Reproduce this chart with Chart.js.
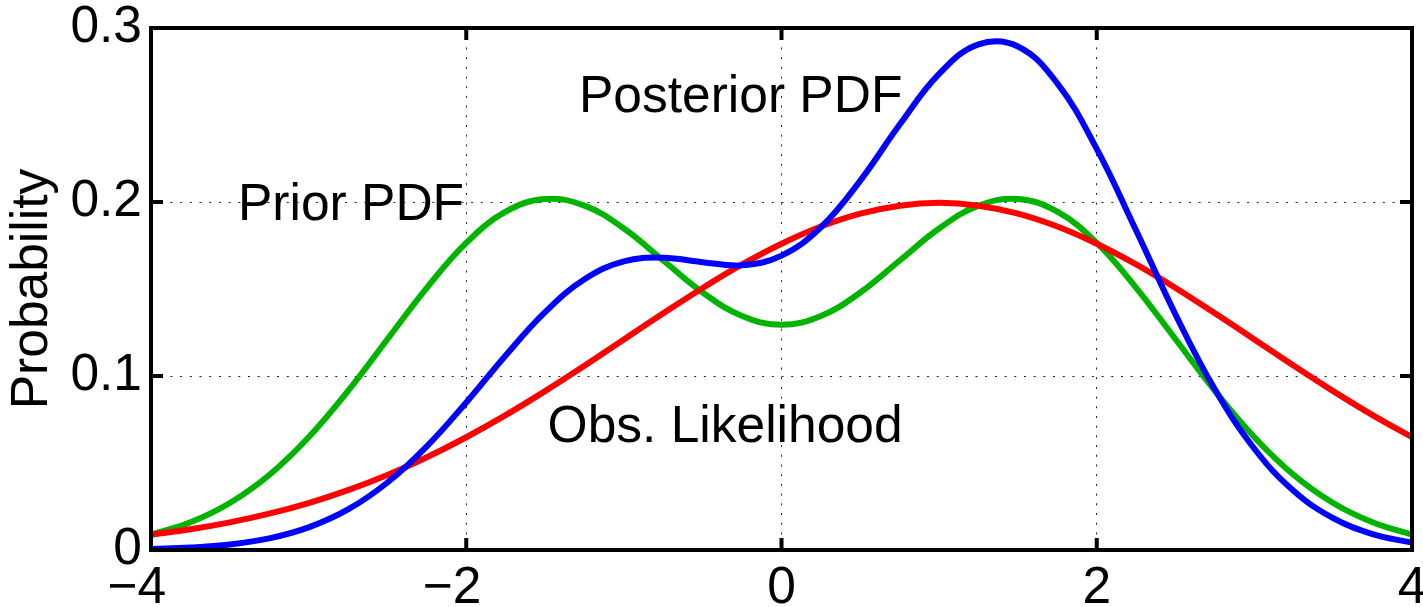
<!DOCTYPE html>
<html>
<head>
<meta charset="utf-8">
<script src="https://cdn.jsdelivr.net/npm/chart.js@4/dist/chart.umd.min.js"></script>
<style>
  html, body { margin: 0; padding: 0; background: #fff; }
  #chart { display: block; }
</style>
</head>
<body>
<canvas id="chart" width="1423" height="607"></canvas>
<script>
// x positions of the samples
const xs = [-4, -3.75, -3.5, -3.25, -3, -2.75, -2.5, -2.25, -2, -1.75, -1.5, -1.25, -1, -0.75, -0.5, -0.25,
  0, 0.25, 0.5, 0.75, 1, 1.25, 1.5, 1.75, 2, 2.25, 2.5, 2.75, 3, 3.25, 3.5, 3.75, 4];

// Prior PDF (green)
const prior = [0.0088, 0.0159, 0.0270, 0.0431, 0.0648, 0.0914, 0.1211, 0.1507, 0.1765, 0.1944, 0.2017, 0.1979,
  0.1848, 0.1664, 0.1480, 0.1345, 0.1295, 0.1345, 0.1480, 0.1664, 0.1848, 0.1979, 0.2017, 0.1944, 0.1765,
  0.1507, 0.1211, 0.0914, 0.0648, 0.0431, 0.0270, 0.0159, 0.0088];

// Obs. Likelihood (red)
const likelihood = [0.0088, 0.0119, 0.0159, 0.0209, 0.0270, 0.0344, 0.0431, 0.0533, 0.0648, 0.0775, 0.0913,
  0.1059, 0.1210, 0.1360, 0.1506, 0.1641, 0.1760, 0.1859, 0.1933, 0.1979, 0.1995, 0.1979, 0.1933, 0.1859,
  0.1760, 0.1641, 0.1506, 0.1360, 0.1210, 0.1059, 0.0913, 0.0775, 0.0648];

// Posterior PDF (blue)
const posterior = [0.0006, 0.0014, 0.0032, 0.0067, 0.0130, 0.0233, 0.0388, 0.0596, 0.0848, 0.1118, 0.1367,
  0.1556, 0.1659, 0.1680, 0.1654, 0.1637, 0.1692, 0.1855, 0.2123, 0.2445, 0.2736, 0.2906, 0.2894, 0.2682,
  0.2305, 0.1836, 0.1353, 0.0922, 0.0582, 0.0339, 0.0183, 0.0091, 0.0042];

const xTickLabels = ["\u22124\u00a0\u00a0", "\u22122\u00a0\u00a0", "0", "2", "4"];
const yTickLabels = ["0", "0.1", "0.2", "0.3"];

const FONT = "'Liberation Sans', Arial, Helvetica, sans-serif";
const FONT_SIZE = 51.5;

// 그래프 안 글자 (데이터 좌표)
const notes = [
  { text: "Prior PDF", x: -3.448, y: 0.1897 },
  { text: "Posterior PDF", x: -1.285, y: 0.2517 },
  { text: "Obs. Likelihood", x: -1.484, y: 0.0620 },
];

const toPoints = (ys) => xs.map((x, i) => ({ x: x, y: ys[i] }));

// 테두리, 안쪽 눈금, 글자
const boxPlugin = {
  id: "box",
  afterDatasetsDraw(chart) {
    const { ctx, chartArea } = chart;
    const sx = chart.scales.x;
    const sy = chart.scales.y;
    const len = 12;
    ctx.save();
    ctx.strokeStyle = "#000";
    ctx.lineWidth = 4;
    ctx.beginPath();
    for (const t of sx.ticks) {
      const px = sx.getPixelForValue(t.value);
      ctx.moveTo(px, chartArea.bottom);
      ctx.lineTo(px, chartArea.bottom - len);
      ctx.moveTo(px, chartArea.top);
      ctx.lineTo(px, chartArea.top + len);
    }
    for (const t of sy.ticks) {
      const py = sy.getPixelForValue(t.value);
      ctx.moveTo(chartArea.left, py);
      ctx.lineTo(chartArea.left + len, py);
      ctx.moveTo(chartArea.right, py);
      ctx.lineTo(chartArea.right - len, py);
    }
    ctx.stroke();
    ctx.strokeRect(chartArea.left, chartArea.top, chartArea.right - chartArea.left, chartArea.bottom - chartArea.top);

    ctx.fillStyle = "#000";
    ctx.font = FONT_SIZE + "px " + FONT;
    ctx.textAlign = "left";
    ctx.textBaseline = "alphabetic";
    for (const n of notes) {
      ctx.fillText(n.text, sx.getPixelForValue(n.x), sy.getPixelForValue(n.y));
    }
    ctx.restore();
  },
};

new Chart(document.getElementById("chart").getContext("2d"), {
  type: "line",
  data: {
    datasets: [
      {
        label: "Posterior PDF",
        data: toPoints(posterior),
        borderColor: "#0000ff",
        order: 1,
      },
      {
        label: "Obs. Likelihood",
        data: toPoints(likelihood),
        borderColor: "#ff0000",
        order: 2,
      },
      {
        label: "Prior PDF",
        data: toPoints(prior),
        borderColor: "#00b400",
        order: 3,
      },
    ],
  },
  options: {
    responsive: false,
    animation: false,
    devicePixelRatio: 1,
    layout: { padding: { left: 0, right: 11, top: 28, bottom: 0 } },
    elements: {
      line: { borderWidth: 6, tension: 0.4, fill: false },
      point: { radius: 0, hoverRadius: 0 },
    },
    plugins: {
      legend: { display: false },
      tooltip: { enabled: false },
    },
    scales: {
      x: {
        type: "linear",
        min: -4,
        max: 4,
        grid: { color: "#222", lineWidth: 1, drawTicks: false },
        border: { display: false, dash: [2, 7.7] },
        ticks: {
          stepSize: 2,
          padding: 8,
          color: "#000",
          font: { family: FONT, size: FONT_SIZE },
          maxRotation: 0,
          callback: (v, i) => xTickLabels[i],
        },
        afterFit(scale) {
          scale.height = 57;
          scale.paddingLeft = 0;
          scale.paddingRight = 0;
        },
      },
      y: {
        min: 0,
        max: 0.3,
        grid: { color: "#222", lineWidth: 1, drawTicks: false },
        border: { display: false, dash: [2, 7.7] },
        ticks: {
          stepSize: 0.1,
          padding: 9,
          color: "#000",
          font: { family: FONT, size: FONT_SIZE },
          callback: (v, i) => yTickLabels[i],
        },
        title: {
          display: true,
          text: "Probability",
          color: "#000",
          font: { family: FONT, size: FONT_SIZE },
          padding: { top: 2, bottom: 0 },
        },
        afterFit(scale) {
          scale.width = 151;
          scale.paddingTop = 0;
          scale.paddingBottom = 0;
        },
      },
    },
  },
  plugins: [boxPlugin],
});
</script>
</body>
</html>
